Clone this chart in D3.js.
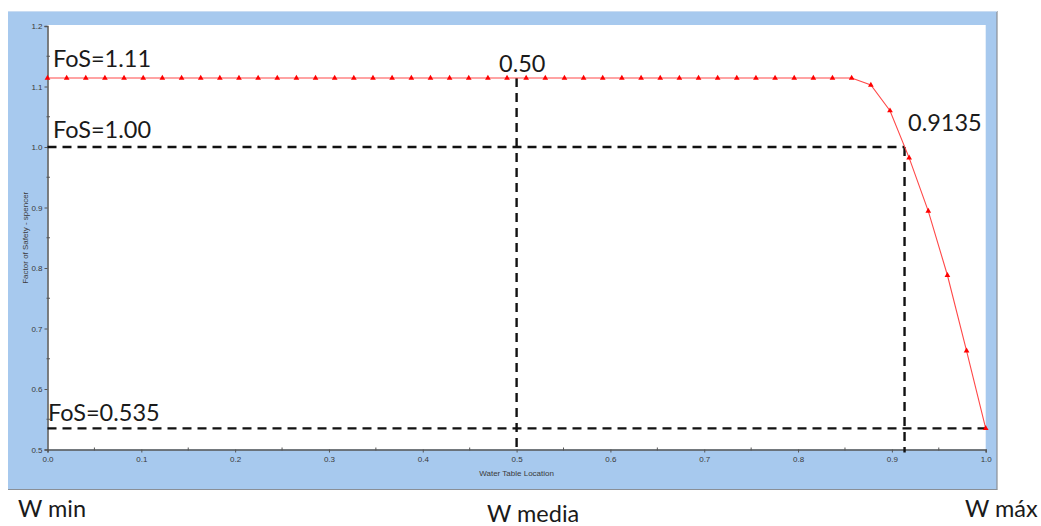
<!DOCTYPE html>
<html>
<head>
<meta charset="utf-8">
<script src="https://cdn.jsdelivr.net/npm/d3@7/dist/d3.min.js"></script>
<style>
  html, body { margin: 0; padding: 0; background: #fff; }
  svg { display: block; }
</style>
</head>
<body>
<svg id="chart" width="1041" height="526"></svg>
<script>
// Water table location (fraction of full height) for each computed case
const waterTable = [
  0.0000, 0.0204, 0.0408, 0.0612, 0.0816, 0.1020, 0.1224, 0.1429, 0.1633, 0.1837,
  0.2041, 0.2245, 0.2449, 0.2653, 0.2857, 0.3061, 0.3265, 0.3469, 0.3673, 0.3878,
  0.4082, 0.4286, 0.4490, 0.4694, 0.4898, 0.5102, 0.5306, 0.5510, 0.5714, 0.5918,
  0.6122, 0.6327, 0.6531, 0.6735, 0.6939, 0.7143, 0.7347, 0.7551, 0.7755, 0.7959,
  0.8163, 0.8367, 0.8571, 0.8776, 0.8980, 0.9184, 0.9388, 0.9592, 0.9796, 1.0000
];

// Factor of safety (Spencer) for each water table location
const factorOfSafety = [
  1.114, 1.114, 1.114, 1.114, 1.114, 1.114, 1.114, 1.114, 1.114, 1.114,
  1.114, 1.114, 1.114, 1.114, 1.114, 1.114, 1.114, 1.114, 1.114, 1.114,
  1.114, 1.114, 1.114, 1.114, 1.114, 1.114, 1.114, 1.114, 1.114, 1.114,
  1.114, 1.114, 1.114, 1.114, 1.114, 1.114, 1.114, 1.114, 1.114, 1.114,
  1.114, 1.114, 1.114, 1.1025, 1.060, 0.982, 0.894, 0.788, 0.663, 0.535
];

const xTicks = [0.0, 0.1, 0.2, 0.3, 0.4, 0.5, 0.6, 0.7, 0.8, 0.9, 1.0];
const yTicks = [0.5, 0.6, 0.7, 0.8, 0.9, 1.0, 1.1, 1.2];

// Key reference values
const fosMax = 1.11;
const fosUnit = 1.00;
const fosMin = 0.535;
const wMedia = 0.50;
const wCritical = 0.9135;

const svg = d3.select("#chart");

const x = d3.scaleLinear().domain([0, 1]).range([47.5, 985.7]);
const y = d3.scaleLinear().domain([0.5, 1.2]).range([449.5, 26]);

const blue = "#a7c9ee";

// Outer blue panel with a thin grey shadow edge
svg.append("rect").attr("x", 8).attr("y", 11).attr("width", 989).attr("height", 478)
  .attr("fill", blue);
svg.append("line").attr("x1", 997).attr("x2", 997).attr("y1", 11).attr("y2", 489.5)
  .attr("stroke", "#8a8f96").attr("stroke-width", 1.2);
svg.append("line").attr("x1", 8).attr("x2", 997.5).attr("y1", 489.5).attr("y2", 489.5)
  .attr("stroke", "#8a8f96").attr("stroke-width", 1.2);
svg.append("line").attr("x1", 8).attr("x2", 997).attr("y1", 11.5).attr("y2", 11.5)
  .attr("stroke", "#c9dcf2").attr("stroke-width", 1);

// White plotting area
svg.append("rect")
  .attr("x", x(0)).attr("y", y(1.2) - 1)
  .attr("width", x(1) - x(0)).attr("height", y(0.5) - y(1.2) + 1)
  .attr("fill", "#fff");

const tickFont = "Liberation Sans, Arial, sans-serif";
const axisColor = "#555";

// X axis
const xAxis = svg.append("g").attr("transform", `translate(0,${y(0.5)})`)
  .call(d3.axisBottom(x).tickValues(xTicks).tickFormat(d3.format(".1f")).tickSize(3).tickPadding(4));
xAxis.select(".domain").attr("stroke", axisColor).attr("stroke-width", 1.5);
xAxis.selectAll(".tick line").attr("stroke", axisColor);
xAxis.selectAll(".tick text").attr("fill", "#3a3a3a").style("font-family", tickFont).style("font-size", "8px");
// minor x ticks
svg.append("g").selectAll("line")
  .data(d3.range(1, 20, 2).map(i => i / 20))
  .join("line")
  .attr("x1", d => x(d)).attr("x2", d => x(d))
  .attr("y1", y(0.5) - 2).attr("y2", y(0.5) + 1)
  .attr("stroke", axisColor);

// Y axis
const yAxis = svg.append("g").attr("transform", `translate(${x(0)},0)`)
  .call(d3.axisLeft(y).tickValues(yTicks).tickFormat(d3.format(".1f")).tickSize(3).tickPadding(2));
yAxis.select(".domain").attr("stroke", axisColor).attr("stroke-width", 1.5);
yAxis.selectAll(".tick line").attr("stroke", axisColor);
yAxis.selectAll(".tick text").attr("fill", "#3a3a3a").style("font-family", tickFont).style("font-size", "8px");
// minor y ticks
svg.append("g").selectAll("line")
  .data(d3.range(11, 24, 2).map(i => i / 20))
  .join("line")
  .attr("x1", x(0) - 1).attr("x2", x(0) + 2.5)
  .attr("y1", d => y(d)).attr("y2", d => y(d))
  .attr("stroke", axisColor);

// Axis titles
svg.append("text").attr("x", (x(0) + x(1)) / 2).attr("y", 476)
  .attr("text-anchor", "middle").attr("fill", "#3a3a3a")
  .style("font-family", tickFont).style("font-size", "8px")
  .text("Water Table Location");
svg.append("text")
  .attr("transform", `translate(28,${(y(0.5) + y(1.2)) / 2}) rotate(-90)`)
  .attr("text-anchor", "middle").attr("fill", "#3a3a3a")
  .style("font-family", tickFont).style("font-size", "8px")
  .text("Factor of Safety - spencer");

// Dashed reference lines
const dash = { stroke: "#111", width: 2.4, array: "9,6" };
const refLines = [
  { x1: 0, y1: fosUnit, x2: wCritical, y2: fosUnit },
  { x1: 0, y1: fosMin, x2: 1, y2: fosMin },
  { x1: wMedia, y1: factorOfSafety[24], x2: wMedia, y2: 0.5 },
  { x1: wCritical, y1: fosUnit, x2: wCritical, y2: 0.5 }
];
svg.append("g").selectAll("line").data(refLines).join("line")
  .attr("x1", d => x(d.x1)).attr("x2", d => x(d.x2))
  .attr("y1", d => y(d.y1)).attr("y2", d => y(d.y2) + (d.x1 === d.x2 ? 3 : 0))
  .attr("stroke", dash.stroke).attr("stroke-width", dash.width)
  .attr("stroke-dasharray", dash.array);

// FoS curve
const pts = waterTable.map((w, i) => [w, factorOfSafety[i]]);
svg.append("path")
  .datum(pts)
  .attr("fill", "none")
  .attr("stroke", "#ff4848")
  .attr("stroke-width", 1.1)
  .attr("d", d3.line().x(d => x(d[0])).y(d => y(d[1])));

const tri = d3.symbol().type(d3.symbolTriangle).size(14);
svg.append("g").selectAll("path").data(pts).join("path")
  .attr("transform", d => `translate(${x(d[0])},${y(d[1])})`)
  .attr("d", tri)
  .attr("fill", "#ff0000");

// Annotation labels
const annFont = "Lato, 'Open Sans', sans-serif";
const annotations = [
  { text: "FoS=" + fosMax.toFixed(2), x: 53, y: 67 },
  { text: "FoS=" + fosUnit.toFixed(2), x: 53, y: 138 },
  { text: "FoS=" + fosMin.toFixed(3), x: 48, y: 421 },
  { text: wMedia.toFixed(2), x: 499, y: 72 },
  { text: wCritical.toFixed(4), x: 908, y: 131 },
  { text: "W min", x: 18, y: 517 },
  { text: "W media", x: 487, y: 522 },
  { text: "W máx", x: 965, y: 517 }
];
svg.append("g").selectAll("text").data(annotations).join("text")
  .attr("x", d => d.x).attr("y", d => d.y)
  .attr("fill", "#1a1a1a")
  .style("font-family", annFont).style("font-size", "23.5px")
  .text(d => d.text);
</script>
</body>
</html>
